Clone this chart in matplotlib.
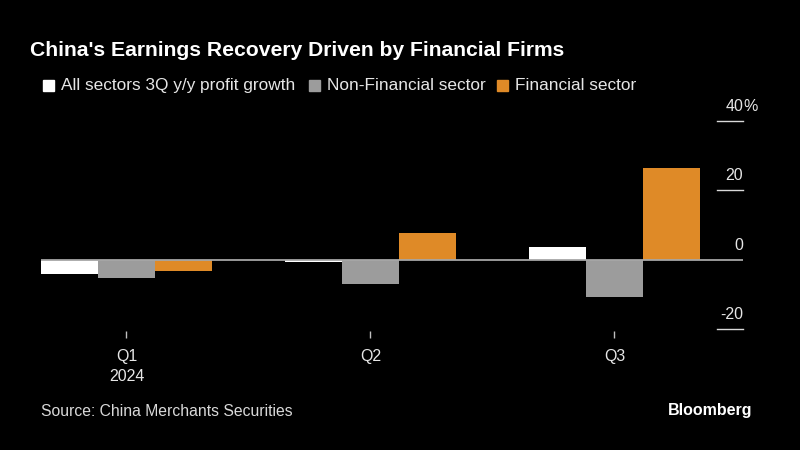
import matplotlib
matplotlib.use("Agg")
import matplotlib.pyplot as plt
import numpy as np

plt.rcParams['font.family'] = ['Liberation Sans', 'DejaVu Sans']

quarters = ["Q1", "Q2", "Q3"]
year_label = "2024"
series_names = ["All sectors 3Q y/y profit growth", "Non-Financial sector", "Financial sector"]
all_sectors = [-4.0, -0.75, 3.65]
non_financial = [-5.3, -7.0, -10.6]
financial = [-3.25, 7.6, 26.4]
colors = ["#FFFFFF", "#9C9C9C", "#DF8A27"]
yticks = [-20, 0, 20, 40]
ytick_labels = ["-20", "0", "20", "40"]

W, H = 800, 450
fig = plt.figure(figsize=(8, 4.5), dpi=100, facecolor="black")

# axes placement in pixels
ax_l, ax_r, ax_t, ax_b = 41, 743, 120.7, 329.3
ax = fig.add_axes([ax_l / W, 1 - ax_b / H, (ax_r - ax_l) / W, (ax_b - ax_t) / H])
ax.set_facecolor("black")

x = np.arange(len(quarters))
bw = 0.2336
for i, (vals, c) in enumerate(zip([all_sectors, non_financial, financial], colors)):
    ax.bar(x + (i - 1) * bw, vals, width=bw, color=c, linewidth=0, zorder=2)

ax.set_xlim(-0.3504, 2.527)
ax.set_ylim(-20, 40)

for s in ax.spines.values():
    s.set_visible(False)

# zero line
ax.axhline(0, color="#A6A6A6", linewidth=1.3, zorder=3)

# right-side tick lines and labels
for v, lab in zip(yticks, ytick_labels):
    if v != 0:
        ax.axhline(v, xmin=0.963, xmax=1.0, color="#D9D9D9", linewidth=1.0,
                   zorder=3, clip_on=False)
    ax.annotate(lab, xy=(1.0, v), xycoords=("axes fraction", "data"),
                xytext=(0, 5), textcoords="offset points",
                ha="right", va="bottom", color="#E6E6E6", fontsize=11.5)
    if v == 40:
        ax.annotate("%", xy=(1.0, v), xycoords=("axes fraction", "data"),
                    xytext=(0, 5), textcoords="offset points",
                    ha="left", va="bottom", color="#E6E6E6", fontsize=11.5)
ax.set_yticks([])

# x ticks
ax.spines['bottom'].set_position(('outward', 1))
ax.set_xticks(x)
ax.set_xticklabels([quarters[0] + "\n" + year_label] + quarters[1:])
ax.tick_params(axis='x', colors="#BFBFBF", length=5, width=1, pad=8,
               labelcolor="#E6E6E6", labelsize=11.5)
for t in ax.get_xticklabels():
    t.set_linespacing(1.45)
    t.set_verticalalignment("top")

# title
fig.text(30 / W, 1 - 50 / H, "China's Earnings Recovery Driven by Financial Firms",
         color="white", fontsize=15.2, fontweight="bold", va="center", ha="left")

# legend
leg_x = [43, 309, 497]
for lx, name, c in zip(leg_x, series_names, colors):
    fig.patches.append(plt.Rectangle((lx / W, 1 - 91 / H), 11 / W, 11 / H,
                                     transform=fig.transFigure, color=c))
    fig.text((lx + 18) / W, 1 - 85.5 / H, name, color="#E6E6E6", fontsize=12.4,
             va="center", ha="left")

fig.text(41 / W, 1 - 411 / H, "Source: China Merchants Securities",
         color="#D9D9D9", fontsize=11.3, va="center", ha="left")
fig.text(752 / W, 1 - 411 / H, "Bloomberg", color="white", fontsize=11.5,
         fontweight="bold", va="center", ha="right")

fig.savefig("out.png", dpi=100, facecolor="black")
